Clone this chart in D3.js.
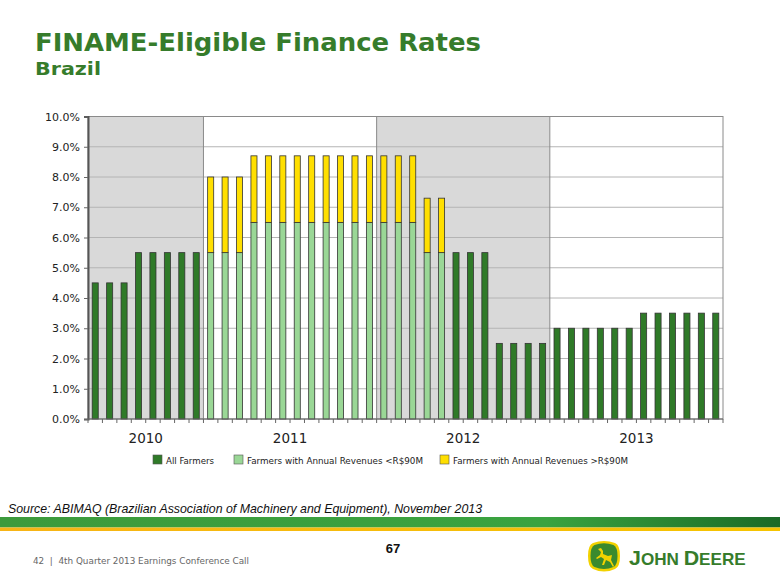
<!DOCTYPE html>
<html><head><meta charset="utf-8">
<script src="https://cdn.jsdelivr.net/npm/d3@7"></script>
<style>body{margin:0;background:#fff}svg{display:block}</style>
</head><body>
<svg id="c" width="780" height="585"></svg>
<script>
// ---- data ----
const years = ["2010", "2011", "2012", "2013"];
const monthsPerYear = [8, 12, 12, 12];
const months = [];
years.forEach((y, i) => { for (let m = 0; m < monthsPerYear[i]; m++) months.push(y + "-" + (12 - monthsPerYear[i] + m + 1)); });
const allFarmers = [4.5,4.5,4.5,5.5,5.5,5.5,5.5,5.5,
  null,null,null,null,null,null,null,null,null,null,null,null,
  null,null,null,null,null,5.5,5.5,5.5,2.5,2.5,2.5,2.5,
  3.0,3.0,3.0,3.0,3.0,3.0,3.5,3.5,3.5,3.5,3.5,3.5];
const smallFarmers = [null,null,null,null,null,null,null,null,
  5.5,5.5,5.5,6.5,6.5,6.5,6.5,6.5,6.5,6.5,6.5,6.5,
  6.5,6.5,6.5,5.5,5.5,null,null,null,null,null,null,null,
  null,null,null,null,null,null,null,null,null,null,null,null];
const largeFarmers = [null,null,null,null,null,null,null,null,
  8.0,8.0,8.0,8.7,8.7,8.7,8.7,8.7,8.7,8.7,8.7,8.7,
  8.7,8.7,8.7,7.3,7.3,null,null,null,null,null,null,null,
  null,null,null,null,null,null,null,null,null,null,null,null];
const yTicks = [0,1,2,3,4,5,6,7,8,9,10];
const seriesNames = ["All Farmers", "Farmers with Annual Revenues <R$90M", "Farmers with Annual Revenues >R$90M"];
const colors = ["#2f7a28", "#9ad796", "#ffdf00"];

// ---- layout ----
const svg = d3.select("#c");
const L = 88, R = 723, T = 116.5, B = 419;
const x = d3.scaleBand().domain(months).range([L, R]).paddingInner(0.58).paddingOuter(0.29);
const y = d3.scaleLinear().domain([0, 10]).range([B, T]);
const font = "Verdana, 'DejaVu Sans', sans-serif";

// title
svg.append("text").attr("x", 35).attr("y", 51).attr("font-family", font).attr("font-weight", "bold")
  .attr("font-size", 24).attr("fill", "#367c2b").attr("textLength", 446).attr("lengthAdjust", "spacingAndGlyphs")
  .text("FINAME-Eligible Finance Rates");
svg.append("text").attr("x", 35).attr("y", 75).attr("font-family", font).attr("font-weight", "bold")
  .attr("font-size", 18).attr("fill", "#367c2b").attr("textLength", 66).attr("lengthAdjust", "spacingAndGlyphs")
  .text("Brazil");

// year shading
let start = 0;
const yearSpans = years.map((yr, i) => { const s = start; start += monthsPerYear[i]; return {yr, s, e: start - 1, i}; });
const step = x.step();
const bandLeft = i => x(months[i]) - x.paddingInner() * step / 2;
const yearX0 = d => d.s === 0 ? L : bandLeft(d.s);
const yearX1 = d => d.e === months.length - 1 ? R : bandLeft(d.e + 1);
svg.append("g").selectAll("rect").data(yearSpans).join("rect")
  .attr("x", yearX0).attr("y", T).attr("width", d => yearX1(d) - yearX0(d)).attr("height", B - T)
  .attr("fill", d => d.i % 2 === 0 ? "#d9d9d9" : "#ffffff");

// gridlines
svg.append("g").selectAll("line").data(yTicks.slice(1)).join("line")
  .attr("x1", L).attr("x2", R).attr("y1", d => y(d)).attr("y2", d => y(d))
  .attr("stroke", "#b4b4b4").attr("stroke-width", 1);

// year separators + border
svg.append("g").selectAll("line").data(yearSpans.slice(1)).join("line")
  .attr("x1", yearX0).attr("x2", yearX0).attr("y1", T).attr("y2", B)
  .attr("stroke", "#8a8a8a").attr("stroke-width", 1);
svg.append("rect").attr("x", L).attr("y", T).attr("width", R - L).attr("height", B - T)
  .attr("fill", "none").attr("stroke", "#8a8a8a").attr("stroke-width", 1);

// bars
const bw = x.bandwidth();
const barG = svg.append("g").attr("stroke", "#333").attr("stroke-width", 0.8);
barG.selectAll(".a").data(months.map((m, i) => ({m, v: allFarmers[i]})).filter(d => d.v != null)).join("rect")
  .attr("x", d => x(d.m)).attr("width", bw).attr("y", d => y(d.v)).attr("height", d => y(0) - y(d.v)).attr("fill", colors[0]);
barG.selectAll(".s").data(months.map((m, i) => ({m, v: smallFarmers[i]})).filter(d => d.v != null)).join("rect")
  .attr("x", d => x(d.m)).attr("width", bw).attr("y", d => y(d.v)).attr("height", d => y(0) - y(d.v)).attr("fill", colors[1]);
barG.selectAll(".l").data(months.map((m, i) => ({m, lo: smallFarmers[i], v: largeFarmers[i]})).filter(d => d.v != null)).join("rect")
  .attr("x", d => x(d.m)).attr("width", bw).attr("y", d => y(d.v)).attr("height", d => y(d.lo) - y(d.v)).attr("fill", colors[2]);

// y axis
const yAxis = svg.append("g").attr("transform", `translate(${L},0)`)
  .call(d3.axisLeft(y).tickValues(yTicks).tickFormat(d => d.toFixed(1) + "%").tickSize(4).tickPadding(4));
yAxis.select(".domain").attr("stroke", "#555").attr("stroke-width", 2);
yAxis.selectAll(".tick line").attr("stroke", "#666");
yAxis.selectAll("text").attr("font-family", font).attr("font-size", 11).attr("fill", "#222");

// x axis ticks at band boundaries
const bounds = d3.range(months.length + 1).map(i => i === months.length ? R : (i === 0 ? L : bandLeft(i)));
svg.append("line").attr("x1", L).attr("x2", R).attr("y1", B).attr("y2", B).attr("stroke", "#666");
svg.append("g").selectAll("line").data(bounds).join("line")
  .attr("x1", d => d).attr("x2", d => d).attr("y1", B).attr("y2", B + 4).attr("stroke", "#666");
svg.append("g").selectAll("text").data(yearSpans).join("text")
  .attr("x", d => (yearX0(d) + yearX1(d)) / 2).attr("y", 443).attr("text-anchor", "middle")
  .attr("font-family", font).attr("font-size", 13.5).attr("fill", "#222").text(d => d.yr);

// legend
const legX = [153, 234, 440];
const legW = [48, 176, 175];
const lg = svg.append("g").selectAll("g").data(seriesNames).join("g")
  .attr("transform", (d, i) => `translate(${legX[i]},455)`);
lg.append("rect").attr("width", 9).attr("height", 9).attr("fill", (d, i) => colors[i]).attr("stroke", "#555").attr("stroke-width", 0.6);
lg.append("text").attr("x", 13).attr("y", 8.5).attr("font-family", font).attr("font-size", 9.5).attr("fill", "#222")
  .attr("textLength", (d, i) => legW[i]).attr("lengthAdjust", "spacingAndGlyphs").text(d => d);

// source
svg.append("text").attr("x", 8).attr("y", 513).attr("font-family", "'Liberation Sans', Arial, sans-serif")
  .attr("font-style", "italic").attr("font-size", 13).attr("fill", "#111").attr("textLength", 474).attr("lengthAdjust", "spacingAndGlyphs")
  .text("Source: ABIMAQ (Brazilian Association of Machinery and Equipment), November 2013");

// footer band
const defs = svg.append("defs");
const gg = defs.append("linearGradient").attr("id", "gband");
gg.append("stop").attr("offset", "0%").attr("stop-color", "#3d9a3c");
gg.append("stop").attr("offset", "70%").attr("stop-color", "#3aa340");
gg.append("stop").attr("offset", "100%").attr("stop-color", "#1a6a26");
const yg = defs.append("linearGradient").attr("id", "yband");
yg.append("stop").attr("offset", "0%").attr("stop-color", "#f7b416");
yg.append("stop").attr("offset", "100%").attr("stop-color", "#f5c400");
svg.append("rect").attr("x", 0).attr("y", 517).attr("width", 780).attr("height", 10.5).attr("fill", "url(#gband)");
svg.append("rect").attr("x", 0).attr("y", 527.5).attr("width", 780).attr("height", 3.5).attr("fill", "url(#yband)");

svg.append("text").attr("x", 393).attr("y", 553).attr("text-anchor", "middle").attr("font-family", "'Liberation Sans Narrow', 'Liberation Sans', Arial, sans-serif")
  .attr("font-weight", "bold").attr("font-size", 13).attr("fill", "#111").text("67");
svg.append("text").attr("x", 33).attr("y", 564).attr("font-family", font).attr("font-size", 9.5).attr("fill", "#666")
  .attr("textLength", 216).attr("lengthAdjust", "spacingAndGlyphs").text("42\u00a0\u00a0|\u00a0\u00a04th Quarter 2013 Earnings Conference Call");

// logo
const logo = svg.append("g").attr("transform", "translate(589,541)");
logo.append("path").attr("d", "M4,2 Q15,-2 26,2 Q31,4 31,15 Q31,26 26,28 Q15,33 4,28 Q-1,26 -1,15 Q-1,4 4,2 Z")
  .attr("fill", "#f2d200");
logo.append("path").attr("d", "M5.5,4 Q15,0.5 24.5,4 Q28.5,6 28.5,15 Q28.5,24 24.5,26 Q15,30 5.5,26 Q1.5,24 1.5,15 Q1.5,6 5.5,4 Z")
  .attr("fill", "#3a8a2e");
logo.append("path").attr("d", "M9,8 L12,11 L11,14 L7,17 L8,18 L12,16 L15,18 L13,24 L15,24 L17,19 L21,21 L24,26 L25,25 L22,19 L23,14 L19,15 L14,13 L14,10 L12,7 Z")
  .attr("fill", "#f2d200");
const jd = svg.append("g").attr("transform", "translate(629,565) scale(1.07,1)")
  .append("text").attr("x", 0).attr("y", 0).attr("font-family", "'Liberation Sans', Arial, sans-serif")
  .attr("font-weight", "bold").attr("fill", "#367c2b");
jd.append("tspan").attr("font-size", 20).text("J");
jd.append("tspan").attr("font-size", 16).text("OHN ");
jd.append("tspan").attr("font-size", 20).text("D");
jd.append("tspan").attr("font-size", 16).text("EERE");
</script>
</body></html>
